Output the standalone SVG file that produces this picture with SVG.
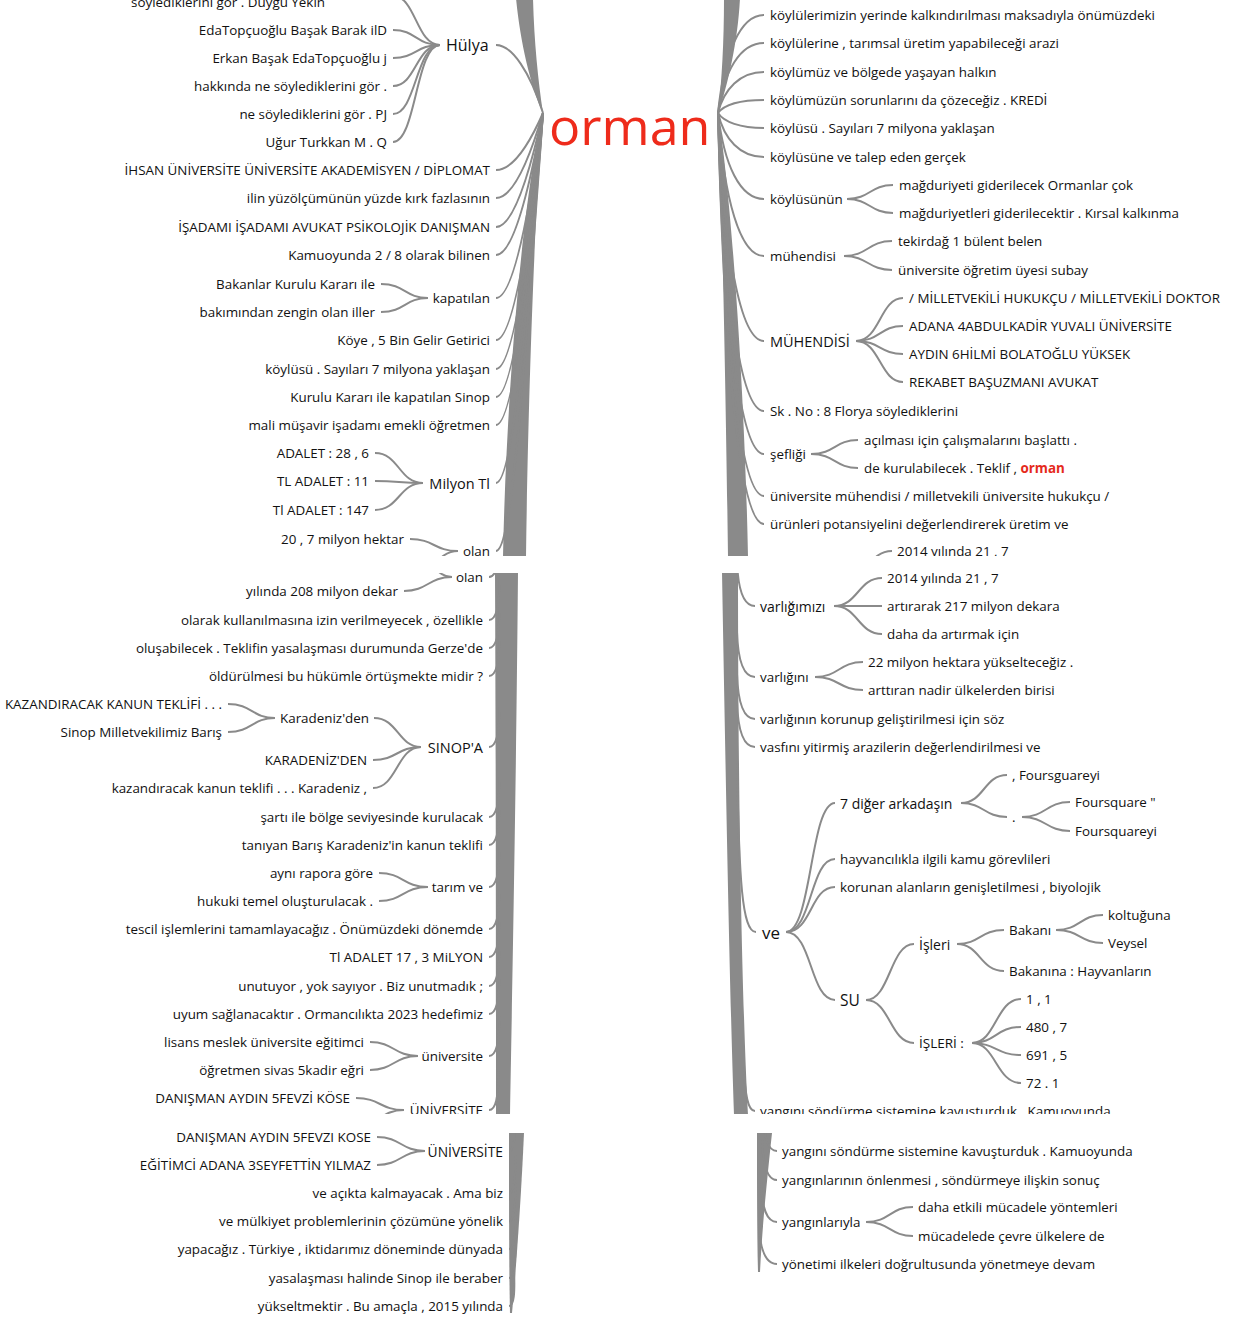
<svg xmlns="http://www.w3.org/2000/svg" width="1243" height="1320" viewBox="0 0 1243 1320">
<style>
text{font-family:"Open Sans","Noto Sans","DejaVu Sans",sans-serif;font-size:13.4px;fill:#111;dominant-baseline:central}
.e{text-anchor:end}
.c path{fill:none;stroke:#8a8a8a;stroke-width:2}
.band{fill:#8a8a8a;stroke:none}
.root{font-size:52px;fill:#ee2b1b}
.red{fill:#e52a1c;font-weight:bold}
</style>
<defs>
<clipPath id="p1"><rect x="0" y="0" width="1243" height="556"/></clipPath>
<clipPath id="p2"><rect x="0" y="573" width="1243" height="541"/></clipPath>
<clipPath id="p3"><rect x="0" y="1133" width="1243" height="187"/></clipPath>
</defs>
<rect width="1243" height="1320" fill="#fff"/>

<g id="connectors">
<g clip-path="url(#p1)">
<path class="band" d="M543,113 C538,80 534,40 533,-2 L516,-2 C520,40 530,85 543,113 Z"/>
<path class="band" d="M543,113 C535,200 528,400 526,557 L503,557 C506,400 522,200 543,113 Z"/>
<path class="band" d="M718,113 C722,80 724,40 724,-2 L740,-2 C738,40 728,85 718,113 Z"/>
<path class="band" d="M718,113 C722,200 726,400 728,557 L748,557 C745,400 732,200 718,113 Z"/>
<g class="c">
<path d="M496,45 C512,45 530,72 543,113"/>
<path d="M496,170 C512,170 528,147 543,113"/>
<path d="M496,198 C512,198 528,164 543,113"/>
<path d="M496,227 C512,227 528,181 543,113"/>
<path d="M496,255 C512,255 528,198 543,113"/>
<path d="M496,298 C512,298 528,224 543,113"/>
<path d="M496,340 C512,340 528,249 543,113"/>
<path d="M496,369 C512,369 528,267 543,113"/>
<path d="M496,397 C512,397 528,283 543,113"/>
<path d="M496,425 C512,425 528,300 543,113"/>
<path d="M496,483 C512,483 526,335 543,113"/>
<path d="M496,551 C512,551 524,376 543,113"/>
<path d="M393,-4 C416,-4 416,45 440,45"/>
<path d="M393,30 C416,30 416,45 440,45"/>
<path d="M393,58 C416,58 416,45 440,45"/>
<path d="M393,86 C416,86 416,45 440,45"/>
<path d="M393,114 C416,114 416,45 440,45"/>
<path d="M393,142 C416,142 416,45 440,45"/>
<path d="M381,284 C405,284 405,298 428,298"/>
<path d="M381,312 C405,312 405,298 428,298"/>
<path d="M375,453 C399,453 399,483 423,483"/>
<path d="M375,481 C399,481 399,483 423,483"/>
<path d="M375,510 C399,510 399,483 423,483"/>
<path d="M410,539 C434,539 434,551 458,551"/>
<path d="M410,580 C434,580 434,551 458,551"/>
<path d="M718,113 C724,54 740,15 764,15"/>
<path d="M718,113 C724,71 740,43 764,43"/>
<path d="M718,113 C724,89 740,72 764,72"/>
<path d="M718,113 C724,105 740,100 764,100"/>
<path d="M718,113 C724,122 740,128 764,128"/>
<path d="M718,113 C724,139 740,157 764,157"/>
<path d="M718,113 C724,165 740,199 764,199"/>
<path d="M718,113 C724,199 740,256 764,256"/>
<path d="M718,113 C724,250 740,341 764,341"/>
<path d="M718,113 C724,292 740,411 764,411"/>
<path d="M718,113 C724,318 740,454 764,454"/>
<path d="M718,113 C724,343 740,496 764,496"/>
<path d="M718,113 C724,360 740,524 764,524"/>
<path d="M847,199 C870,199 870,185 893,185"/>
<path d="M847,199 C870,199 870,213 893,213"/>
<path d="M844,256 C868,256 868,241 892,241"/>
<path d="M844,256 C868,256 868,270 892,270"/>
<path d="M856,341 C880,341 880,298 903,298"/>
<path d="M856,341 C880,341 880,326 903,326"/>
<path d="M856,341 C880,341 880,354 903,354"/>
<path d="M856,341 C880,341 880,382 903,382"/>
<path d="M811,454 C835,454 835,440 858,440"/>
<path d="M811,454 C835,454 835,468 858,468"/>
<path d="M844,580 C868,580 868,551 892,551"/>
</g>
</g>
<g clip-path="url(#p2)">
<path class="band" d="M495,572 L518,572 C516,800 512,1000 510,1115 L496,1115 C496,1000 496,800 495,572 Z"/>
<path class="band" d="M722,572 L738,572 C738,800 742,1000 748,1115 L734,1115 C730,1000 726,800 722,572 Z"/>
<g class="c">
<path d="M489,577 C496,577 499,565 500,537"/>
<path d="M489,620 C496,620 499,608 500,580"/>
<path d="M489,648 C496,648 499,636 500,608"/>
<path d="M489,676 C496,676 499,664 500,636"/>
<path d="M489,747 C496,747 499,735 500,707"/>
<path d="M489,817 C496,817 499,805 500,777"/>
<path d="M489,845 C496,845 499,833 500,805"/>
<path d="M489,887 C496,887 499,875 500,847"/>
<path d="M489,929 C496,929 499,917 500,889"/>
<path d="M489,957 C496,957 499,945 500,917"/>
<path d="M489,986 C496,986 499,974 500,946"/>
<path d="M489,1014 C496,1014 499,1002 500,974"/>
<path d="M489,1056 C496,1056 499,1044 500,1016"/>
<path d="M489,1110 C496,1110 498,1098 499,1070"/>
<path d="M404,591 C428,591 428,577 452,577"/>
<path d="M410,548 C431,548 431,577 452,577"/>
<path d="M228,704 C252,704 252,718 275,718"/>
<path d="M228,732 C252,732 252,718 275,718"/>
<path d="M374,718 C398,718 398,747 421,747"/>
<path d="M373,760 C397,760 397,747 421,747"/>
<path d="M373,788 C397,788 397,747 421,747"/>
<path d="M379,873 C403,873 403,887 428,887"/>
<path d="M379,901 C403,901 403,887 428,887"/>
<path d="M370,1042 C394,1042 394,1056 418,1056"/>
<path d="M370,1070 C394,1070 394,1056 418,1056"/>
<path d="M356,1098 C380,1098 380,1110 404,1110"/>
<path d="M356,1126 C380,1126 380,1110 404,1110"/>
<path d="M737,561 C738,591 744,606 755,606"/>
<path d="M737,632 C738,662 744,677 755,677"/>
<path d="M737,674 C738,704 744,719 755,719"/>
<path d="M737,702 C738,732 744,747 755,747"/>
<path d="M737,760 C739,880 742,932 756,932"/>
<path d="M744,1066 C745,1096 748,1111 755,1111"/>
<path d="M834,606 C858,606 858,578 882,578"/>
<path d="M834,606 C858,606 858,606 882,606"/>
<path d="M834,606 C858,606 858,634 882,634"/>
<path d="M815,677 C839,677 839,662 863,662"/>
<path d="M815,677 C839,677 839,690 863,690"/>
<path d="M786,932 C812,932 810,803 835,803"/>
<path d="M786,932 C812,932 810,859 835,859"/>
<path d="M786,932 C812,932 810,887 835,887"/>
<path d="M786,932 C812,932 810,1000 835,1000"/>
<path d="M961,803 C984,803 984,775 1007,775"/>
<path d="M961,803 C984,803 984,817 1007,817"/>
<path d="M1022,817 C1046,817 1046,802 1070,802"/>
<path d="M1022,817 C1046,817 1046,831 1070,831"/>
<path d="M866,1000 C890,1000 890,944 914,944"/>
<path d="M866,1000 C890,1000 890,1043 914,1043"/>
<path d="M957,944 C980,944 980,930 1004,930"/>
<path d="M957,944 C980,944 980,971 1004,971"/>
<path d="M1056,930 C1080,930 1080,915 1103,915"/>
<path d="M1056,930 C1080,930 1080,943 1103,943"/>
<path d="M972,1043 C996,1043 996,999 1021,999"/>
<path d="M972,1043 C996,1043 996,1027 1021,1027"/>
<path d="M972,1043 C996,1043 996,1055 1021,1055"/>
<path d="M972,1043 C996,1043 996,1083 1021,1083"/>
</g>
</g>
<g clip-path="url(#p3)">
<path class="band" d="M509,1133 L524,1133 C521,1200 516,1270 512,1313 L510,1313 C509,1270 509,1200 509,1133 Z"/>
<path class="band" d="M757,1133 L772,1133 C767,1180 762,1230 760,1272 L758,1272 C757,1230 757,1180 757,1133 Z"/>
<g class="c">
<path d="M509,1151 C514,1151 515,1139 516,1113"/>
<path d="M509,1193 C514,1193 515,1181 516,1155"/>
<path d="M509,1221 C514,1221 515,1209 516,1183"/>
<path d="M509,1249 C514,1249 515,1237 516,1211"/>
<path d="M509,1278 C514,1278 515,1266 516,1240"/>
<path d="M509,1306 C514,1306 515,1294 514,1268"/>
<path d="M377,1137 C401,1137 401,1151 425,1151"/>
<path d="M377,1165 C401,1165 401,1151 425,1151"/>
<path d="M763,1111 C764,1139 768,1151 777,1151"/>
<path d="M762,1140 C763,1168 768,1180 777,1180"/>
<path d="M761,1182 C762,1210 767,1222 777,1222"/>
<path d="M759,1224 C760,1252 766,1264 777,1264"/>
<path d="M866,1222 C890,1222 890,1207 913,1207"/>
<path d="M866,1222 C890,1222 890,1236 913,1236"/>
</g>
</g>
</g>

<g id="nodes">
<g id="root"><text class="root" x="549" y="124">orman</text></g>
<g clip-path="url(#p1)">
<g id="l-top"><text class="e" x="325" y="2">söylediklerini gör . Duygu Yekin</text></g>
<g id="l-hulya"><text x="446" y="45" style="font-size:16px">Hülya</text></g>
<g id="l-hulya-1"><text class="e" x="387" y="30">EdaTopçuoğlu Başak Barak ilD</text></g>
<g id="l-hulya-2"><text class="e" x="387" y="58">Erkan Başak EdaTopçuoğlu j</text></g>
<g id="l-hulya-3"><text class="e" x="387" y="86">hakkında ne söylediklerini gör .</text></g>
<g id="l-hulya-4"><text class="e" x="387" y="114">ne söylediklerini gör . PJ</text></g>
<g id="l-hulya-5"><text class="e" x="387" y="142">Uğur Turkkan M . Q</text></g>
<g id="l-ihsan"><text class="e" x="490" y="170">İHSAN ÜNİVERSİTE ÜNİVERSİTE AKADEMİSYEN / DİPLOMAT</text></g>
<g id="l-ilin"><text class="e" x="490" y="198">ilin yüzölçümünün yüzde kırk fazlasının</text></g>
<g id="l-isadami"><text class="e" x="490" y="227">İŞADAMI İŞADAMI AVUKAT PSİKOLOJİK DANIŞMAN</text></g>
<g id="l-kamuoyunda"><text class="e" x="490" y="255">Kamuoyunda 2 / 8 olarak bilinen</text></g>
<g id="l-kapatilan"><text class="e" x="490" y="298">kapatılan</text></g>
<g id="l-kapatilan-1"><text class="e" x="375" y="284">Bakanlar Kurulu Kararı ile</text></g>
<g id="l-kapatilan-2"><text class="e" x="375" y="312">bakımından zengin olan iller</text></g>
<g id="l-koye"><text class="e" x="490" y="340">Köye , 5 Bin Gelir Getirici</text></g>
<g id="l-koylusu"><text class="e" x="490" y="369">köylüsü . Sayıları 7 milyona yaklaşan</text></g>
<g id="l-kurulu"><text class="e" x="490" y="397">Kurulu Kararı ile kapatılan Sinop</text></g>
<g id="l-mali"><text class="e" x="490" y="425">mali müşavir işadamı emekli öğretmen</text></g>
<g id="l-milyon"><text class="e" x="490" y="483" style="font-size:14.5px">Milyon Tl</text></g>
<g id="l-milyon-1"><text class="e" x="369" y="453">ADALET : 28 , 6</text></g>
<g id="l-milyon-2"><text class="e" x="369" y="481">TL ADALET : 11</text></g>
<g id="l-milyon-3"><text class="e" x="369" y="510">Tl ADALET : 147</text></g>
<g id="l-olan"><text class="e" x="490" y="551">olan</text></g>
<g id="l-olan-1"><text class="e" x="404" y="539">20 , 7 milyon hektar</text></g>

<g id="r-1"><text x="770" y="15">köylülerimizin yerinde kalkındırılması maksadıyla önümüzdeki</text></g>
<g id="r-2"><text x="770" y="43">köylülerine , tarımsal üretim yapabileceği arazi</text></g>
<g id="r-3"><text x="770" y="72">köylümüz ve bölgede yaşayan halkın</text></g>
<g id="r-4"><text x="770" y="100">köylümüzün sorunlarını da çözeceğiz . KREDİ</text></g>
<g id="r-5"><text x="770" y="128">köylüsü . Sayıları 7 milyona yaklaşan</text></g>
<g id="r-6"><text x="770" y="157">köylüsüne ve talep eden gerçek</text></g>
<g id="r-koylusunun"><text x="770" y="199">köylüsünün</text></g>
<g id="r-koylusunun-1"><text x="899" y="185">mağduriyeti giderilecek Ormanlar çok</text></g>
<g id="r-koylusunun-2"><text x="899" y="213">mağduriyetleri giderilecektir . Kırsal kalkınma</text></g>
<g id="r-muhendisi"><text x="770" y="256">mühendisi</text></g>
<g id="r-muhendisi-1"><text x="898" y="241">tekirdağ 1 bülent belen</text></g>
<g id="r-muhendisi-2"><text x="898" y="270">üniversite öğretim üyesi subay</text></g>
<g id="r-MUHENDISI"><text x="770" y="341" style="font-size:14.5px">MÜHENDİSİ</text></g>
<g id="r-MUHENDISI-1"><text x="909" y="298">/ MİLLETVEKİLİ HUKUKÇU / MİLLETVEKİLİ DOKTOR</text></g>
<g id="r-MUHENDISI-2"><text x="909" y="326">ADANA 4ABDULKADİR YUVALI ÜNİVERSİTE</text></g>
<g id="r-MUHENDISI-3"><text x="909" y="354">AYDIN 6HİLMİ BOLATOĞLU YÜKSEK</text></g>
<g id="r-MUHENDISI-4"><text x="909" y="382">REKABET BAŞUZMANI AVUKAT</text></g>
<g id="r-sk"><text x="770" y="411">Sk . No : 8 Florya söylediklerini</text></g>
<g id="r-sefligi"><text x="770" y="454">şefliği</text></g>
<g id="r-sefligi-1"><text x="864" y="440">açılması için çalışmalarını başlattı .</text></g>
<g id="r-sefligi-2"><text x="864" y="468">de kurulabilecek . Teklif , <tspan class="red">orman</tspan></text></g>
<g id="r-universite"><text x="770" y="496">üniversite mühendisi / milletvekili üniversite hukukçu /</text></g>
<g id="r-urunleri"><text x="770" y="524">ürünleri potansiyelini değerlendirerek üretim ve</text></g>
<g id="r-2014a"><text x="897" y="551">2014 yılında 21 , 7</text></g>
</g>

<g clip-path="url(#p2)">
<g id="l2-olan"><text class="e" x="483" y="577">olan</text></g>
<g id="l2-olan-1"><text class="e" x="398" y="591">yılında 208 milyon dekar</text></g>
<g id="l2-olarak"><text class="e" x="483" y="620">olarak kullanılmasına izin verilmeyecek , özellikle</text></g>
<g id="l2-olusabilecek"><text class="e" x="483" y="648">oluşabilecek . Teklifin yasalaşması durumunda Gerze'de</text></g>
<g id="l2-oldurulmesi"><text class="e" x="483" y="676">öldürülmesi bu hükümle örtüşmekte midir ?</text></g>
<g id="l2-sinopa"><text class="e" x="483" y="747" style="font-size:14.5px">SINOP'A</text></g>
<g id="l2-karadenizden"><text x="280" y="718">Karadeniz'den</text></g>
<g id="l2-karadenizden-1"><text class="e" x="222" y="704">KAZANDIRACAK KANUN TEKLİFİ . . .</text></g>
<g id="l2-karadenizden-2"><text class="e" x="222" y="732">Sinop Milletvekilimiz Barış</text></g>
<g id="l2-KARADENIZDEN"><text class="e" x="367" y="760">KARADENİZ'DEN</text></g>
<g id="l2-kazandiracak"><text class="e" x="367" y="788">kazandıracak kanun teklifi . . . Karadeniz ,</text></g>
<g id="l2-sarti"><text class="e" x="483" y="817">şartı ile bölge seviyesinde kurulacak</text></g>
<g id="l2-taniyan"><text class="e" x="483" y="845">tanıyan Barış Karadeniz'in kanun teklifi</text></g>
<g id="l2-tarimve"><text class="e" x="483" y="887">tarım ve</text></g>
<g id="l2-tarimve-1"><text class="e" x="373" y="873">aynı rapora göre</text></g>
<g id="l2-tarimve-2"><text class="e" x="373" y="901">hukuki temel oluşturulacak .</text></g>
<g id="l2-tescil"><text class="e" x="483" y="929">tescil işlemlerini tamamlayacağız . Önümüzdeki dönemde</text></g>
<g id="l2-tl"><text class="e" x="483" y="957">Tl ADALET 17 , 3 MiLYON</text></g>
<g id="l2-unutuyor"><text class="e" x="483" y="986">unutuyor , yok sayıyor . Biz unutmadık ;</text></g>
<g id="l2-uyum"><text class="e" x="483" y="1014">uyum sağlanacaktır . Ormancılıkta 2023 hedefimiz</text></g>
<g id="l2-universite"><text class="e" x="483" y="1056">üniversite</text></g>
<g id="l2-universite-1"><text class="e" x="364" y="1042">lisans meslek üniversite eğitimci</text></g>
<g id="l2-universite-2"><text class="e" x="364" y="1070">öğretmen sivas 5kadir eğri</text></g>
<g id="l2-UNIVERSITE"><text class="e" x="483" y="1110">ÜNİVERSİTE</text></g>
<g id="l2-UNIVERSITE-1"><text class="e" x="350" y="1098">DANIŞMAN AYDIN 5FEVZİ KÖSE</text></g>

<g id="r2-varligimizi"><text x="760" y="606" style="font-size:14px">varlığımızı</text></g>
<g id="r2-varligimizi-1"><text x="887" y="578">2014 yılında 21 , 7</text></g>
<g id="r2-varligimizi-2"><text x="887" y="606">artırarak 217 milyon dekara</text></g>
<g id="r2-varligimizi-3"><text x="887" y="634">daha da artırmak için</text></g>
<g id="r2-varligini"><text x="760" y="677">varlığını</text></g>
<g id="r2-varligini-1"><text x="868" y="662">22 milyon hektara yükselteceğiz .</text></g>
<g id="r2-varligini-2"><text x="868" y="690">arttıran nadir ülkelerden birisi</text></g>
<g id="r2-varliginin"><text x="760" y="719">varlığının korunup geliştirilmesi için söz</text></g>
<g id="r2-vasfini"><text x="760" y="747">vasfını yitirmiş arazilerin değerlendirilmesi ve</text></g>
<g id="r2-ve"><text x="762" y="932" style="font-size:17px">ve</text></g>
<g id="r2-diger"><text x="840" y="803" style="font-size:14px">7 diğer arkadaşın</text></g>
<g id="r2-diger-1"><text x="1012" y="775">, Foursguareyi</text></g>
<g id="r2-dot"><text x="1012" y="817">.</text></g>
<g id="r2-dot-1"><text x="1075" y="802">Foursquare "</text></g>
<g id="r2-dot-2"><text x="1075" y="831">Foursquareyi</text></g>
<g id="r2-hayvancilik"><text x="840" y="859">hayvancılıkla ilgili kamu görevlileri</text></g>
<g id="r2-korunan"><text x="840" y="887">korunan alanların genişletilmesi , biyolojik</text></g>
<g id="r2-su"><text x="840" y="1000" style="font-size:15.5px">SU</text></g>
<g id="r2-isleri"><text x="919" y="944" style="font-size:14px">İşleri</text></g>
<g id="r2-bakani"><text x="1009" y="930">Bakanı</text></g>
<g id="r2-koltuguna"><text x="1108" y="915">koltuğuna</text></g>
<g id="r2-veysel"><text x="1108" y="943">Veysel</text></g>
<g id="r2-bakanina"><text x="1009" y="971">Bakanına : Hayvanların</text></g>
<g id="r2-ISLERI"><text x="919" y="1043" style="font-size:13.5px">İŞLERİ :</text></g>
<g id="r2-n1"><text x="1026" y="999">1 , 1</text></g>
<g id="r2-n2"><text x="1026" y="1027">480 , 7</text></g>
<g id="r2-n3"><text x="1026" y="1055">691 , 5</text></g>
<g id="r2-n4"><text x="1026" y="1083">72 . 1</text></g>
<g id="r2-yangini"><text x="760" y="1111">yangını söndürme sistemine kavuşturduk . Kamuoyunda</text></g>
</g>

<g clip-path="url(#p3)">
<g id="l3-UNIVERSITE"><text class="e" x="503" y="1151" style="font-size:13.8px">ÜNİVERSİTE</text></g>
<g id="l3-UNIVERSITE-1"><text class="e" x="371" y="1137">DANIŞMAN AYDIN 5FEVZİ KÖSE</text></g>
<g id="l3-UNIVERSITE-2"><text class="e" x="371" y="1165">EĞİTİMCİ ADANA 3SEYFETTİN YILMAZ</text></g>
<g id="l3-acikta"><text class="e" x="503" y="1193">ve açıkta kalmayacak . Ama biz</text></g>
<g id="l3-mulkiyet"><text class="e" x="503" y="1221">ve mülkiyet problemlerinin çözümüne yönelik</text></g>
<g id="l3-yapacagiz"><text class="e" x="503" y="1249">yapacağız . Türkiye , iktidarımız döneminde dünyada</text></g>
<g id="l3-yasalasmasi"><text class="e" x="503" y="1278">yasalaşması halinde Sinop ile beraber</text></g>
<g id="l3-yukseltmektir"><text class="e" x="503" y="1306">yükseltmektir . Bu amaçla , 2015 yılında</text></g>

<g id="r3-yangini"><text x="782" y="1151">yangını söndürme sistemine kavuşturduk . Kamuoyunda</text></g>
<g id="r3-onlenmesi"><text x="782" y="1180">yangınlarının önlenmesi , söndürmeye ilişkin sonuç</text></g>
<g id="r3-yanginlariyla"><text x="782" y="1222">yangınlarıyla</text></g>
<g id="r3-yanginlariyla-1"><text x="918" y="1207">daha etkili mücadele yöntemleri</text></g>
<g id="r3-yanginlariyla-2"><text x="918" y="1236">mücadelede çevre ülkelere de</text></g>
<g id="r3-yonetimi"><text x="782" y="1264">yönetimi ilkeleri doğrultusunda yönetmeye devam</text></g>
</g>
</g>
</svg>
